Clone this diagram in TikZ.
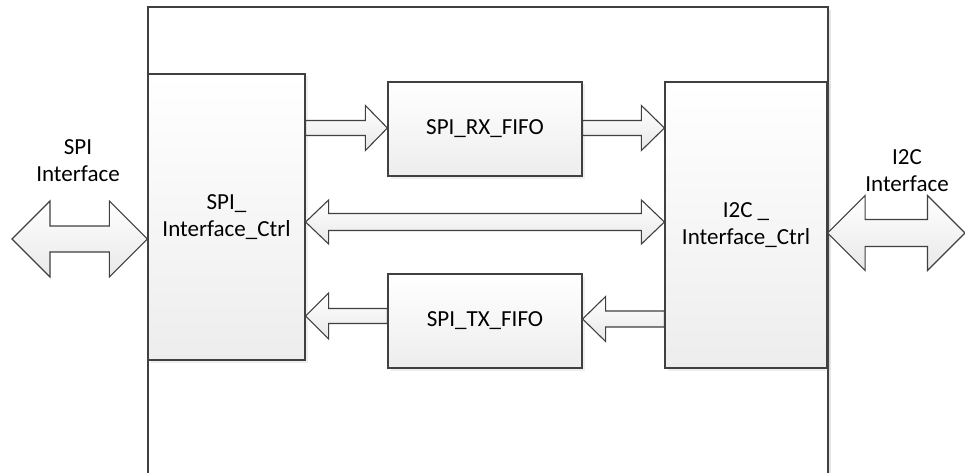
\documentclass[tikz,border=0pt]{standalone}
\usepackage{fontspec}
\setmainfont{Carlito}
\usetikzlibrary{calc,shadows}
\definecolor{edge}{HTML}{404040}
\newcommand\blkR[5]{% from #1 to tip #2, shaft half #3, head half #4, head length #5
  \draw[blkarrow] let \p1=(#1), \p2=(#2) in
    (\x1,\y2+#3pt) -- (\x2-#5pt,\y2+#3pt) -- (\x2-#5pt,\y2+#4pt) -- (\x2,\y2)
    -- (\x2-#5pt,\y2-#4pt) -- (\x2-#5pt,\y2-#3pt) -- (\x1,\y2-#3pt) -- cycle;}
\newcommand\blkL[5]{% from #1 to tip #2 (tip on the left)
  \draw[blkarrow] let \p1=(#1), \p2=(#2) in
    (\x1,\y2+#3pt) -- (\x2+#5pt,\y2+#3pt) -- (\x2+#5pt,\y2+#4pt) -- (\x2,\y2)
    -- (\x2+#5pt,\y2-#4pt) -- (\x2+#5pt,\y2-#3pt) -- (\x1,\y2-#3pt) -- cycle;}
\newcommand\blkD[5]{% double arrow, left tip #1, right tip #2
  \draw[blkarrow] let \p1=(#1), \p2=(#2) in
    (\x1,\y1) -- (\x1+#5pt,\y1+#4pt) -- (\x1+#5pt,\y1+#3pt) -- (\x2-#5pt,\y1+#3pt)
    -- (\x2-#5pt,\y1+#4pt) -- (\x2,\y1) -- (\x2-#5pt,\y1-#4pt) -- (\x2-#5pt,\y1-#3pt)
    -- (\x1+#5pt,\y1-#3pt) -- (\x1+#5pt,\y1-#4pt) -- cycle;}
\begin{document}
\begin{tikzpicture}[x=1pt,y=-1pt,
  font=\fontsize{23}{27}\selectfont,
  blockbox/.style={draw=edge,line width=1.2pt,rectangle,inner sep=0pt,
    top color=white,bottom color=black!7,align=center,
    drop shadow={opacity=0.12,shadow xshift=2.5pt,shadow yshift=-2.5pt}},
  blkarrow/.style={draw=edge,line width=1.1pt,line join=miter,
    top color=white,bottom color=black!9},
  lbl/.style={align=center,inner sep=0pt}]
\useasboundingbox (0,0) rectangle (965,473);
% outer container (open at the bottom)
\fill[black!10] (151,10) rectangle (831,473);
\fill[white] (148,7) rectangle (828,473);
\draw[edge,line width=1.2pt] (148,474) -- (148,7) -- (828,7) -- (828,474);
% blocks
\node[blockbox,minimum width=157pt,minimum height=286pt] (spi) at (226.5,217) {SPI\_\\Interface\_Ctrl};
\node[blockbox,minimum width=162pt,minimum height=286pt] (i2c) at (746,225) {I2C \_\\Interface\_Ctrl};
\node[blockbox,minimum width=194pt,minimum height=94pt] (rx) at (485,129) {SPI\_RX\_FIFO};
\node[blockbox,minimum width=194pt,minimum height=94pt] (tx) at (485,321) {SPI\_TX\_FIFO};
% outside labels
\node[lbl] (spilbl) at (78,161) {SPI\\Interface};
\node[lbl] (i2clbl) at (907,171) {I2C\\Interface};
% free ends of the external arrows
\coordinate (spiext) at (12,239);
\coordinate (i2cext) at (965,233);
% block arrows
\blkD{spiext}{spi.west |- 0,239}{13}{38}{38}
\blkD{i2c.east |- 0,233}{i2cext}{13.5}{37.5}{37.5}
\blkR{spi.east |- 0,128}{rx.west |- 0,128}{7.5}{22.5}{22}
\blkR{rx.east |- 0,128}{i2c.west |- 0,128}{7.5}{22.5}{23}
\blkD{spi.east |- 0,222}{i2c.west |- 0,222}{8.5}{22}{23}
\blkL{tx.west |- 0,316}{spi.east |- 0,316}{7.5}{23}{23}
\blkL{i2c.west |- 0,319}{tx.east |- 0,319}{8}{22.5}{23}
\end{tikzpicture}
\end{document}
